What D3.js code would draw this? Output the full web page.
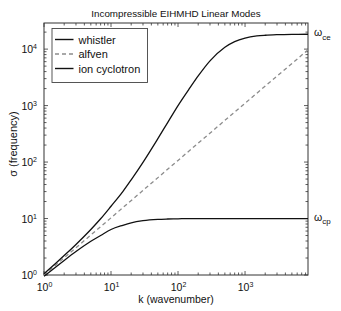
<!DOCTYPE html>
<html>
<head>
<meta charset="utf-8">
<script src="https://cdn.jsdelivr.net/npm/d3@7"></script>
<style>
  body { margin: 0; background: #fff; }
  svg { display: block; font-family: "Liberation Sans", Arial, sans-serif; }
</style>
</head>
<body>
<div id="chart"></div>
<script>
// wavenumbers sampled along the curves
let kValues = [1, 1.5, 2, 3, 5, 7, 10, 15, 20, 30, 50, 70, 100, 150, 200, 300, 500, 700, 1000, 1500, 2000, 3000, 5000, 8700];
let whistler = [1.05, 1.62, 2.21, 3.48, 6.4, 9.9, 16.5, 30, 48.5, 99, 260, 500, 1000, 2050, 3350, 6200, 10800, 13600, 15700, 17100, 17600, 18000, 18250, 18330];
let ionCyclotron = [0.95, 1.39, 1.81, 2.6, 3.95, 5.0, 6.4, 7.6, 8.4, 9.15, 9.65, 9.8, 9.9, 9.95, 10, 10, 10, 10, 10, 10, 10, 10, 10, 10];
let alfvenK = [1, 10, 100, 1000, 8700];
let alfven = [1, 10.3, 107, 1100, 9700];

let xTicks = [1, 10, 100, 1000];
let yTicks = [1, 10, 100, 1000, 10000];
let xDomain = [1, 8700];
let yDomain = [1, 29000];
let omegaCe = 18330, omegaCp = 10;

let width = 341, height = 311;
let margin = { top: 23, right: 33, bottom: 36, left: 44 };
let w = width - margin.left - margin.right;
let h = height - margin.top - margin.bottom;

let svg = d3.select("#chart").append("svg")
    .attr("width", width)
    .attr("height", height);

let g = svg.append("g").attr("transform", `translate(${margin.left},${margin.top})`);

let x = d3.scaleLog().domain(xDomain).range([0, w]);
let y = d3.scaleLog().domain(yDomain).range([h, 0]);

// minor ticks 2..9 of each decade
function minorTicks(scale) {
    let out = [];
    let [a, b] = scale.domain();
    for (let p = Math.floor(Math.log10(a)); p <= Math.ceil(Math.log10(b)); p++) {
        for (let m = 2; m <= 9; m++) {
            let v = m * Math.pow(10, p);
            if (v >= a && v <= b) out.push(v);
        }
    }
    return out;
}

let axisColor = "#333";
let ticks = g.append("g").attr("stroke", axisColor).attr("stroke-width", 0.8);

// x ticks, bottom and top, pointing inward
xTicks.concat(minorTicks(x)).forEach(v => {
    let len = xTicks.includes(v) ? 4 : 2.5;
    ticks.append("line").attr("x1", x(v)).attr("x2", x(v)).attr("y1", h).attr("y2", h - len);
    ticks.append("line").attr("x1", x(v)).attr("x2", x(v)).attr("y1", 0).attr("y2", len);
});
// y ticks, left and right
yTicks.concat(minorTicks(y)).forEach(v => {
    let len = yTicks.includes(v) ? 4 : 2.5;
    ticks.append("line").attr("y1", y(v)).attr("y2", y(v)).attr("x1", 0).attr("x2", len);
    ticks.append("line").attr("y1", y(v)).attr("y2", y(v)).attr("x1", w).attr("x2", w - len);
});

// box
g.append("rect")
    .attr("width", w).attr("height", h)
    .attr("fill", "none")
    .attr("stroke", axisColor)
    .attr("stroke-width", 1);

// power-of-ten labels
function powLabel(sel, v) {
    sel.append("tspan").text("10");
    sel.append("tspan")
        .attr("dy", "-0.55em")
        .attr("font-size", "7px")
        .text(Math.round(Math.log10(v)));
}

xTicks.forEach(v => {
    let t = g.append("text")
        .attr("x", x(v) + 0.5)
        .attr("y", h + 15.5)
        .attr("text-anchor", "middle")
        .attr("font-size", "10.5px")
        .attr("fill", "#111");
    powLabel(t, v);
});

yTicks.forEach(v => {
    let t = g.append("text")
        .attr("x", -7)
        .attr("y", y(v) + 4)
        .attr("text-anchor", "end")
        .attr("font-size", "10.5px")
        .attr("fill", "#111");
    powLabel(t, v);
});

// axis labels and title
svg.append("text")
    .attr("x", margin.left + w / 2)
    .attr("y", 302.5)
    .attr("text-anchor", "middle")
    .attr("font-size", "10.5px")
    .attr("fill", "#111")
    .text("k (wavenumber)");

svg.append("text")
    .attr("transform", `translate(17,${margin.top + h / 2 - 5}) rotate(-90)`)
    .attr("text-anchor", "middle")
    .attr("font-size", "11px")
    .attr("fill", "#111")
    .text("σ (frequency)");

svg.append("text")
    .attr("x", margin.left + w / 2)
    .attr("y", 17)
    .attr("text-anchor", "middle")
    .attr("font-size", "9.8px")
    .attr("fill", "#111")
    .text("Incompressible EIHMHD Linear Modes");

// curves
let line = d3.line()
    .x(d => x(d[0]))
    .y(d => y(d[1]))
    .curve(d3.curveMonotoneX);

let plot = g.append("g");

plot.append("path")
    .datum(alfvenK.map((k, i) => [k, alfven[i]]))
    .attr("d", line)
    .attr("fill", "none")
    .attr("stroke", "#8c8c8c")
    .attr("stroke-width", 1.3)
    .attr("stroke-dasharray", "4,3");

plot.append("path")
    .datum(kValues.map((k, i) => [k, whistler[i]]))
    .attr("d", line)
    .attr("fill", "none")
    .attr("stroke", "#111")
    .attr("stroke-width", 1.3);

plot.append("path")
    .datum(kValues.map((k, i) => [k, ionCyclotron[i]]))
    .attr("d", line)
    .attr("fill", "none")
    .attr("stroke", "#111")
    .attr("stroke-width", 1.3);

// omega markers at right
function omegaLabel(val, sub) {
    let t = g.append("text")
        .attr("x", w + 6)
        .attr("y", y(val) + 2)
        .attr("font-size", "10.5px")
        .attr("fill", "#111");
    t.append("tspan").text("ω");
    t.append("tspan").attr("dy", "0.45em").attr("font-size", "8px").text(sub);
}
omegaLabel(omegaCe, "ce");
omegaLabel(omegaCp, "cp");

// legend
let legendItems = [
    { name: "whistler", color: "#111", dash: null },
    { name: "alfven", color: "#8c8c8c", dash: "4,3" },
    { name: "ion cyclotron", color: "#111", dash: null }
];

let legend = svg.append("g").attr("transform", "translate(52,28.5)");
legend.append("rect")
    .attr("width", 95.5)
    .attr("height", 54)
    .attr("fill", "#fff")
    .attr("stroke", "#444")
    .attr("stroke-width", 0.9);

legendItems.forEach((d, i) => {
    let yy = 11 + i * 14.5;
    legend.append("line")
        .attr("x1", 3).attr("x2", 21.5)
        .attr("y1", yy).attr("y2", yy)
        .attr("stroke", d.color)
        .attr("stroke-width", 1.4)
        .attr("stroke-dasharray", d.dash);
    legend.append("text")
        .attr("x", 26.5)
        .attr("y", yy + 4)
        .attr("font-size", "11px")
        .attr("fill", "#111")
        .text(d.name);
});
</script>
</body>
</html>
